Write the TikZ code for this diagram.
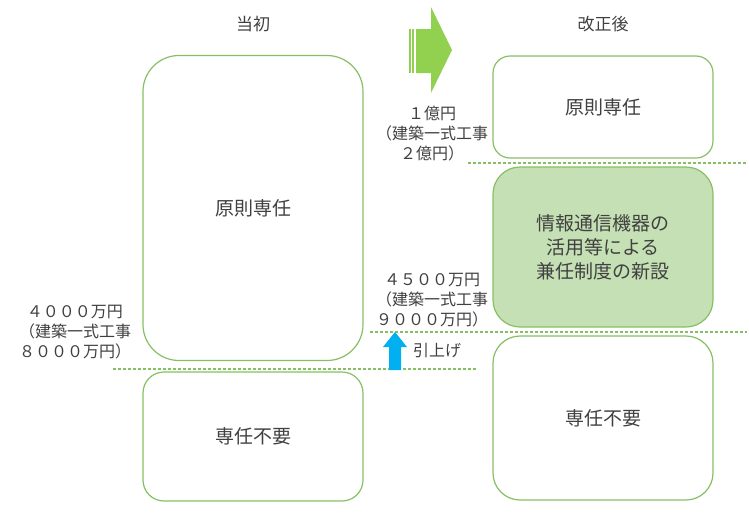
\documentclass[tikz,border=0pt]{standalone}
\usepackage{fontspec}
\setmainfont{Noto Sans CJK JP}
\definecolor{boxgreen}{RGB}{135,192,100}
\definecolor{fillgreen}{RGB}{197,224,180}
\definecolor{arrowgreen}{RGB}{146,208,80}
\definecolor{arrowblue}{RGB}{0,176,240}
\definecolor{textgray}{RGB}{64,64,64}

\begin{document}
\begin{tikzpicture}[x=1pt,y=-1pt]
 \tikzstyle{box} = [draw=boxgreen,line width=1.2pt,fill=white,minimum width=220pt,inner sep=0pt,text=textgray,font=\fontsize{19}{24}\selectfont,align=center]
 \tikzstyle{note} = [text=textgray,font=\fontsize{16}{20}\selectfont,align=center,inner sep=0pt]
 \tikzstyle{head} = [text=textgray,font=\fontsize{17}{20}\selectfont]
 \tikzstyle{level} = [draw=boxgreen,line width=1.2pt,densely dashed]
 \useasboundingbox (0,0) rectangle (749,523);

  % Headings
  \node[head] (h1) at (253,24) {当初};
  \node[head] (h2) at (603,24) {改正後};

  % Boxes before
  \node[box,minimum height=305pt,rounded corners=36pt] (b1) at (253,208) {原則専任};
  \node[box,minimum height=129pt,rounded corners=21pt] (b2) at (253,436.5) {専任不要};

  % Boxes after
  \node[box,minimum height=102pt,rounded corners=17pt] (b3) at (603,107) {原則専任};
  \node[box,fill=fillgreen,minimum height=160pt,rounded corners=27pt] (b4) at (603,247) {情報通信機器の\\活用等による\\兼任制度の新設};
  \node[box,minimum height=164pt,rounded corners=27pt] (b5) at (603,418) {専任不要};

  % Levels
  \coordinate (d1a) at (468,163);
  \coordinate (d1b) at (747,163);
  \coordinate (d2a) at (370,332);
  \coordinate (d2b) at (747,332);
  \coordinate (d3a) at (113,369);
  \coordinate (d3b) at (476,369);
  \draw[level] (d1a) -- (d1b);
  \draw[level] (d2a) -- (d2b);
  \draw[level] (d3a) -- (d3b);

  \node[note] (l1) at (432,134) {１億円\\（建築一式工事\\２億円）};
  \node[note] (l2) at (432,300) {４５００万円\\（建築一式工事\\９０００万円）};
  \node[note] (l3) at (75,332) {４０００万円\\（建築一式工事\\８０００万円）};
  \node[note,anchor=west] (l4) at (413,350) {引上げ};

  % Arrows
  \fill[arrowgreen] (409,29) rectangle (411,73);
  \fill[arrowgreen] (412,29) rectangle (414,73);
  \fill[arrowgreen] (416,29) -- (431,29) -- (431,7) -- (452,50) -- (431,93) -- (431,73) -- (416,73) -- cycle;
  \fill[arrowblue] (395,332) -- (407,347) -- (401,347) -- (401,370) -- (389,370) -- (389,347) -- (383,347) -- cycle;

\end{tikzpicture}
\end{document}
